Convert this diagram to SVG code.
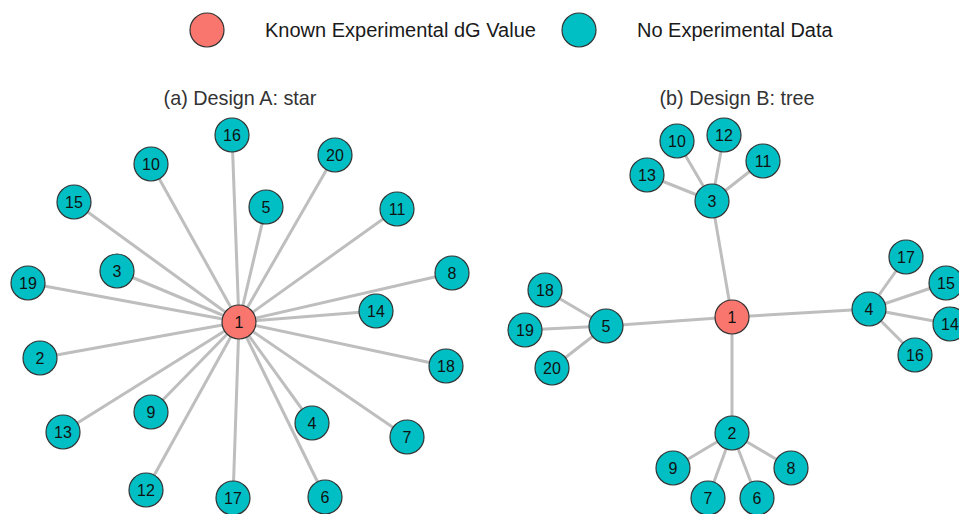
<svg xmlns="http://www.w3.org/2000/svg" width="959" height="514" viewBox="0 0 959 514">
<style>
.e{stroke:#BEBEBE;stroke-width:3;fill:none}
.n circle{stroke:#333;stroke-width:1.2}
.t circle{fill:#00BFC4}
.r circle{fill:#F8766D}
.n text{font-family:"Liberation Sans",Arial,sans-serif;font-size:16px;fill:#111;text-anchor:middle;dominant-baseline:central}
.lg{font-family:"Liberation Sans",Arial,sans-serif;font-size:20px;fill:#1a1a1a}
.ti{font-family:"Liberation Sans",Arial,sans-serif;font-size:19.8px;fill:#333;text-anchor:middle}
</style>
<rect width="959" height="514" fill="#fff"/>
<g id="legend">
<circle cx="207" cy="30" r="17" fill="#F8766D" stroke="#333" stroke-width="1.2"/>
<text class="lg" x="265" y="37">Known Experimental dG Value</text>
<circle cx="579" cy="30" r="17" fill="#00BFC4" stroke="#333" stroke-width="1.2"/>
<text class="lg" x="637" y="37">No Experimental Data</text>
</g>
<text class="ti" x="240" y="105">(a) Design A: star</text>
<text class="ti" x="737" y="105">(b) Design B: tree</text>
<g id="connectors">
<g id="star-edges">
<line class="e" x1="239" y1="322" x2="232" y2="135"/>
<line class="e" x1="239" y1="322" x2="151" y2="164"/>
<line class="e" x1="239" y1="322" x2="335" y2="155"/>
<line class="e" x1="239" y1="322" x2="74" y2="202"/>
<line class="e" x1="239" y1="322" x2="266" y2="207"/>
<line class="e" x1="239" y1="322" x2="397" y2="209"/>
<line class="e" x1="239" y1="322" x2="28" y2="283"/>
<line class="e" x1="239" y1="322" x2="117" y2="271"/>
<line class="e" x1="239" y1="322" x2="452" y2="273"/>
<line class="e" x1="239" y1="322" x2="376" y2="311"/>
<line class="e" x1="239" y1="322" x2="40" y2="358"/>
<line class="e" x1="239" y1="322" x2="446" y2="366"/>
<line class="e" x1="239" y1="322" x2="63" y2="432"/>
<line class="e" x1="239" y1="322" x2="151" y2="412"/>
<line class="e" x1="239" y1="322" x2="312" y2="423"/>
<line class="e" x1="239" y1="322" x2="407" y2="437"/>
<line class="e" x1="239" y1="322" x2="146" y2="490"/>
<line class="e" x1="239" y1="322" x2="233" y2="498"/>
<line class="e" x1="239" y1="322" x2="325" y2="497"/>
</g>
<g id="tree-edges">
<line class="e" x1="732" y1="317" x2="712" y2="201"/>
<line class="e" x1="732" y1="317" x2="606" y2="326"/>
<line class="e" x1="732" y1="317" x2="869" y2="309"/>
<line class="e" x1="732" y1="317" x2="732" y2="433"/>
<line class="e" x1="712" y1="201" x2="677" y2="141"/>
<line class="e" x1="712" y1="201" x2="724" y2="135"/>
<line class="e" x1="712" y1="201" x2="763" y2="161"/>
<line class="e" x1="712" y1="201" x2="647" y2="175"/>
<line class="e" x1="606" y1="326" x2="545" y2="290"/>
<line class="e" x1="606" y1="326" x2="525" y2="330"/>
<line class="e" x1="606" y1="326" x2="552" y2="368"/>
<line class="e" x1="869" y1="309" x2="906" y2="257"/>
<line class="e" x1="869" y1="309" x2="946" y2="283"/>
<line class="e" x1="869" y1="309" x2="950" y2="324"/>
<line class="e" x1="869" y1="309" x2="915" y2="355"/>
<line class="e" x1="732" y1="433" x2="673" y2="468"/>
<line class="e" x1="732" y1="433" x2="708" y2="498"/>
<line class="e" x1="732" y1="433" x2="757" y2="498"/>
<line class="e" x1="732" y1="433" x2="791" y2="468"/>
</g>
</g>
<g id="star-nodes">
<g id="a1" class="n r"><circle cx="239" cy="322" r="17"/><text x="239" y="322">1</text></g>
<g id="a16" class="n t"><circle cx="232" cy="135" r="17"/><text x="232" y="135">16</text></g>
<g id="a10" class="n t"><circle cx="151" cy="164" r="17"/><text x="151" y="164">10</text></g>
<g id="a20" class="n t"><circle cx="335" cy="155" r="17"/><text x="335" y="155">20</text></g>
<g id="a15" class="n t"><circle cx="74" cy="202" r="17"/><text x="74" y="202">15</text></g>
<g id="a5" class="n t"><circle cx="266" cy="207" r="17"/><text x="266" y="207">5</text></g>
<g id="a11" class="n t"><circle cx="397" cy="209" r="17"/><text x="397" y="209">11</text></g>
<g id="a19" class="n t"><circle cx="28" cy="283" r="17"/><text x="28" y="283">19</text></g>
<g id="a3" class="n t"><circle cx="117" cy="271" r="17"/><text x="117" y="271">3</text></g>
<g id="a8" class="n t"><circle cx="452" cy="273" r="17"/><text x="452" y="273">8</text></g>
<g id="a14" class="n t"><circle cx="376" cy="311" r="17"/><text x="376" y="311">14</text></g>
<g id="a2" class="n t"><circle cx="40" cy="358" r="17"/><text x="40" y="358">2</text></g>
<g id="a18" class="n t"><circle cx="446" cy="366" r="17"/><text x="446" y="366">18</text></g>
<g id="a13" class="n t"><circle cx="63" cy="432" r="17"/><text x="63" y="432">13</text></g>
<g id="a9" class="n t"><circle cx="151" cy="412" r="17"/><text x="151" y="412">9</text></g>
<g id="a4" class="n t"><circle cx="312" cy="423" r="17"/><text x="312" y="423">4</text></g>
<g id="a7" class="n t"><circle cx="407" cy="437" r="17"/><text x="407" y="437">7</text></g>
<g id="a12" class="n t"><circle cx="146" cy="490" r="17"/><text x="146" y="490">12</text></g>
<g id="a17" class="n t"><circle cx="233" cy="498" r="17"/><text x="233" y="498">17</text></g>
<g id="a6" class="n t"><circle cx="325" cy="497" r="17"/><text x="325" y="497">6</text></g>
</g>
<g id="tree-nodes">
<g id="b1" class="n r"><circle cx="732" cy="317" r="17"/><text x="732" y="317">1</text></g>
<g id="b3" class="n t"><circle cx="712" cy="201" r="17"/><text x="712" y="201">3</text></g>
<g id="b10" class="n t"><circle cx="677" cy="141" r="17"/><text x="677" y="141">10</text></g>
<g id="b12" class="n t"><circle cx="724" cy="135" r="17"/><text x="724" y="135">12</text></g>
<g id="b11" class="n t"><circle cx="763" cy="161" r="17"/><text x="763" y="161">11</text></g>
<g id="b13" class="n t"><circle cx="647" cy="175" r="17"/><text x="647" y="175">13</text></g>
<g id="b5" class="n t"><circle cx="606" cy="326" r="17"/><text x="606" y="326">5</text></g>
<g id="b18" class="n t"><circle cx="545" cy="290" r="17"/><text x="545" y="290">18</text></g>
<g id="b19" class="n t"><circle cx="525" cy="330" r="17"/><text x="525" y="330">19</text></g>
<g id="b20" class="n t"><circle cx="552" cy="368" r="17"/><text x="552" y="368">20</text></g>
<g id="b4" class="n t"><circle cx="869" cy="309" r="17"/><text x="869" y="309">4</text></g>
<g id="b17" class="n t"><circle cx="906" cy="257" r="17"/><text x="906" y="257">17</text></g>
<g id="b15" class="n t"><circle cx="946" cy="283" r="17"/><text x="946" y="283">15</text></g>
<g id="b14" class="n t"><circle cx="950" cy="324" r="17"/><text x="950" y="324">14</text></g>
<g id="b16" class="n t"><circle cx="915" cy="355" r="17"/><text x="915" y="355">16</text></g>
<g id="b2" class="n t"><circle cx="732" cy="433" r="17"/><text x="732" y="433">2</text></g>
<g id="b9" class="n t"><circle cx="673" cy="468" r="17"/><text x="673" y="468">9</text></g>
<g id="b8" class="n t"><circle cx="791" cy="468" r="17"/><text x="791" y="468">8</text></g>
<g id="b7" class="n t"><circle cx="708" cy="498" r="17"/><text x="708" y="498">7</text></g>
<g id="b6" class="n t"><circle cx="757" cy="498" r="17"/><text x="757" y="498">6</text></g>
</g>
</svg>
